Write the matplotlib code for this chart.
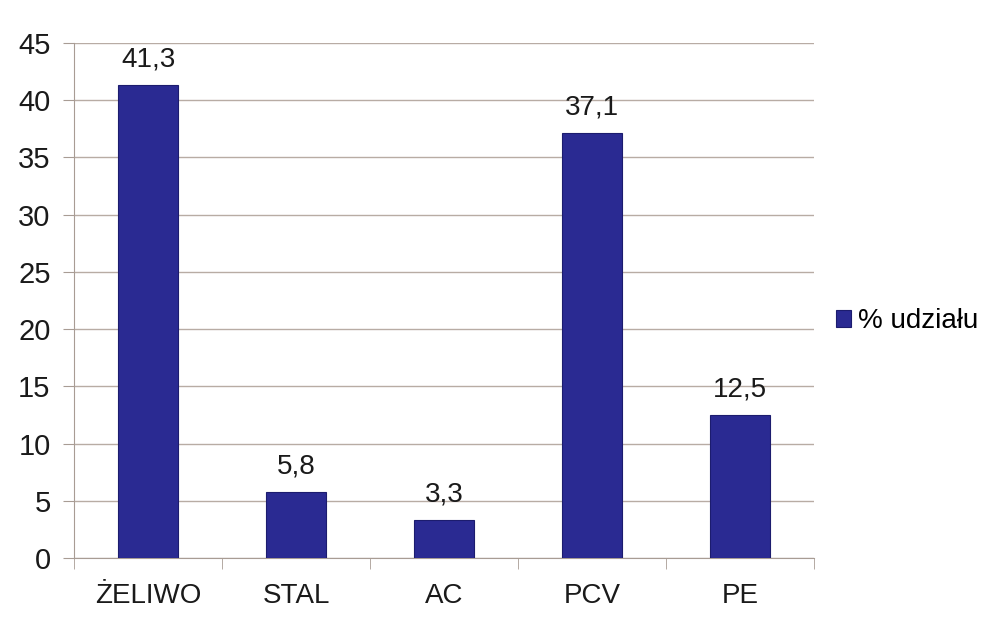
import matplotlib
matplotlib.use('Agg')
import matplotlib.pyplot as plt

categories = ['ŻELIWO', 'STAL', 'AC', 'PCV', 'PE']
values = [41.3, 5.8, 3.3, 37.1, 12.5]
value_labels = ['41,3', '5,8', '3,3', '37,1', '12,5']
yticks = list(range(0, 46, 5))

BAR_COLOR = '#2a2a92'
GRID_COLOR = '#b8aca4'
TEXT_COLOR = '#1a1a1a'

plt.rcParams['font.family'] = ['Liberation Sans', 'DejaVu Sans']

fig = plt.figure(figsize=(9.89, 6.21), dpi=100)
ax = fig.add_axes([0.075, 0.101, 0.748, 0.830])

x = list(range(len(categories)))
ax.bar(x, values, width=0.41, color=BAR_COLOR, edgecolor='#1c1c6e',
       linewidth=0.8, zorder=3, label='% udziału')

for xi, v, lab in zip(x, values, value_labels):
    ax.text(xi, v + 1.1, lab, ha='center', va='bottom', fontsize=20,
            color=TEXT_COLOR)

ax.set_xlim(-0.5, len(categories) - 0.5)
ax.set_ylim(0, 45)
ax.set_yticks(yticks)
ax.set_xticks(x)
ax.set_xticklabels(categories)
ax.yaxis.grid(True, color=GRID_COLOR, linewidth=1.0, zorder=0)
ax.set_axisbelow(True)

for s in ['top', 'right']:
    ax.spines[s].set_visible(False)
ax.spines['left'].set_color('#a89c94')
ax.spines['bottom'].set_color('#a89c94')

ax.tick_params(axis='y', labelsize=21, colors=TEXT_COLOR, length=8,
               color='#a89c94', direction='out', pad=9)
ax.tick_params(axis='x', labelsize=20, colors=TEXT_COLOR, length=0, pad=18)

# category separator ticks on the x axis
ax.set_xticks([i + 0.5 for i in range(-1, len(categories))], minor=True)
ax.tick_params(axis='x', which='minor', length=8, color='#a89c94',
               direction='out')

ax.legend(loc='center left', bbox_to_anchor=(1.0, 0.46), frameon=False,
          fontsize=20, handlelength=0.55, handleheight=0.55,
          handletextpad=0.25, borderaxespad=0.4)

fig.savefig('out.png', dpi=100)
